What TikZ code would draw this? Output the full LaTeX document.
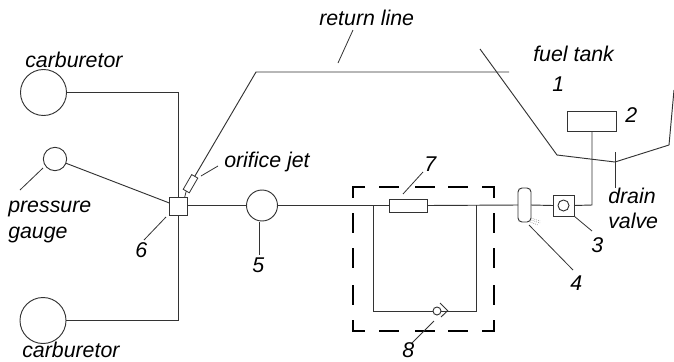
\documentclass[tikz,border=0pt]{standalone}
\usepackage{fontspec}
\setmainfont{Liberation Sans}
\usetikzlibrary{calc}
\tikzset{
 ln/.style={draw=black!80,line width=0.7pt},
 lead/.style={draw=black!80,line width=0.6pt},
 part/.style={draw=black!80,line width=0.7pt,fill=white,inner sep=0pt,outer sep=0pt,minimum width=#1},
 roundpart/.style={part=#1,circle},
 lab/.style={font=\fontsize{16}{18}\selectfont\itshape,text=black,inner sep=0pt,align=left}
}
\begin{document}
\begin{tikzpicture}[x=0.75pt,y=-0.75pt]
\useasboundingbox (0,0) rectangle (674,361);
% junctions
\coordinate (cornT) at (178,92);
\coordinate (cornB) at (178,320);
\coordinate (retA) at (256,72);
\coordinate (retB) at (509,72);
\coordinate (loopTL) at (373,205);
\coordinate (loopTR) at (476,205);
\coordinate (loopBL) at (373,311);
\coordinate (loopBR) at (476,311);
\coordinate (elbow) at (592,205);
% tank
\coordinate (t1) at (480,49);
\coordinate (t2) at (557,155);
\coordinate (t3) at (615,162);
\coordinate (t4) at (669,145);
\coordinate (t5) at (674,90);
\coordinate (drainB) at (615,188);
\draw[ln] (t1)--(t2)--(t3)--(t4)--(t5);
\draw[ln] (615,152)--(drainB);
% nodes
\node[roundpart=34.5pt] (carbT) at (43.5,92.5) {};
\node[roundpart=34.5pt] (carbB) at (43,320.5) {};
\node[roundpart=17.5pt] (gauge) at (55,159) {};
\node[part=13.5pt,minimum height=13pt] (six) at (178.5,206.5) {};
\node[roundpart=23.25pt] (five) at (262,205.5) {};
\node[part=28.5pt,minimum height=9.75pt] (seven) at (408,205.5) {};
\node[part=36.75pt,minimum height=15pt] (two) at (592,121) {};
\node[part=15.75pt,minimum height=15.75pt] (three) at (563.5,205.5) {};
\node[roundpart=8.25pt] (threeC) at (563.5,205.5) {};
\node[part=9.75pt,minimum height=25.5pt,rounded corners=3pt] (four) at (524.5,205) {};
\node[roundpart=6pt] (valve) at (437,311) {};
\node[part=12.75pt,minimum height=5.25pt,rotate=60,line width=0.6pt] (jet) at (190.5,183.7) {};
% connectors
\draw[ln] (carbT.east |- cornT)--(cornT)--(six.north -| cornT);
\draw[ln] (carbB.east |- cornB)--(cornB)--(six.south -| cornB);
\draw[ln] (gauge)--(six);
\draw[ln] (six.east |- five.west)--(five.west);
\draw[ln] (five.east)--(seven.west);
\draw[ln] (seven.east)--(four.west);
\draw[ln] (four.east)--(three.west);
\draw[ln] (three.east)--(elbow)--(two.south);
\draw[ln,line width=0.6pt] (six.north)++(6,0)--(jet.west);
\draw[ln] (jet.east)--(retA)--(retB);
\draw[ln] (loopTL)--(loopBL)--(valve.west);
\draw[ln] (valve.east)--(loopBR)--(loopTR);
\coordinate (chevA) at (440,303);
\coordinate (chevB) at (447.7,310.7);
\coordinate (chevC) at (441,317);
\draw[ln] (chevA)--(chevB)--(chevC);
% dots near 4
\draw[black!60,line width=0.4pt,densely dotted] (531,220)--(540,223) (530,222)--(538,225) (531,218)--(540,221);
% dashed box
\draw[black,line width=1.15pt]
 (365,187)--(353,187)--(353,198)
 (379,187)--(399,187) (415,187)--(435,187) (448,187)--(468,187)
 (482,187)--(494,187)--(494,198)
 (353,213)--(353,233) (353,248)--(353,268) (353,285)--(353,305)
 (494,213)--(494,233) (494,248)--(494,268) (494,285)--(494,305)
 (353,320)--(353,331)--(365,331)
 (379,331)--(399,331) (415,331)--(435,331) (448,331)--(468,331)
 (482,331)--(494,331)--(494,320);
% labels
\node[lab,anchor=base west] (lCT) at (25,67) {carburetor};
\node[lab,anchor=base west] (lCB) at (22,357.5) {carburetor};
\node[lab,anchor=base west] (lRet) at (319,25) {return line};
\node[lab,anchor=base west] (lTank) at (533,61) {fuel tank};
\node[lab,anchor=base west] (l1) at (552,91) {1};
\node[lab,anchor=base west] (l2) at (625,122.5) {2};
\node[lab,anchor=base west] (lJet) at (224,167) {orifice jet};
\node[lab,anchor=base west] (l7) at (424,171) {7};
\node[lab,anchor=base west] (lDr1) at (608,203) {drain};
\node[lab,anchor=base west] (lDr2) at (608,228) {valve};
\node[lab,anchor=base west] (l3) at (591,252) {3};
\node[lab,anchor=base west] (l4) at (570,290) {4};
\node[lab,anchor=base west] (l5) at (252,272.5) {5};
\node[lab,anchor=base west] (l6) at (135,257) {6};
\node[lab,anchor=base west] (l8) at (402,357.5) {8};
\node[lab,anchor=base west] (lP1) at (8,212) {pressure};
\node[lab,anchor=base west] (lP2) at (8,238) {gauge};
% leader ends
\coordinate (aRet) at (353,30);
\coordinate (bRet) at (338,63);
\coordinate (aJet) at (218,166);
\coordinate (bJet) at (201,176);
\coordinate (aG) at (43,168);
\coordinate (bG) at (20,190);
\coordinate (aS) at (166,217);
\coordinate (bS) at (144,240);
\coordinate (aF) at (259.5,222);
\coordinate (bF) at (259.5,255);
\coordinate (aSev) at (403,194);
\coordinate (bSev) at (423,172);
\coordinate (aE) at (434,321);
\coordinate (bE) at (412,343);
\coordinate (aFo) at (529,225);
\coordinate (bFo) at (573,270);
\coordinate (bTh) at (592,231);
\draw[lead] (aRet)--(bRet);
\draw[lead] (aJet)--(bJet);
\draw[lead] (aG)--(bG);
\draw[lead] (aS)--(bS);
\draw[lead] (aF)--(bF);
\draw[lead] (aSev)--(bSev);
\draw[lead] (aE)--(bE);
\draw[lead] (aFo)--(bFo);
\draw[lead] (three.south east)--(bTh);
\end{tikzpicture}
\end{document}
